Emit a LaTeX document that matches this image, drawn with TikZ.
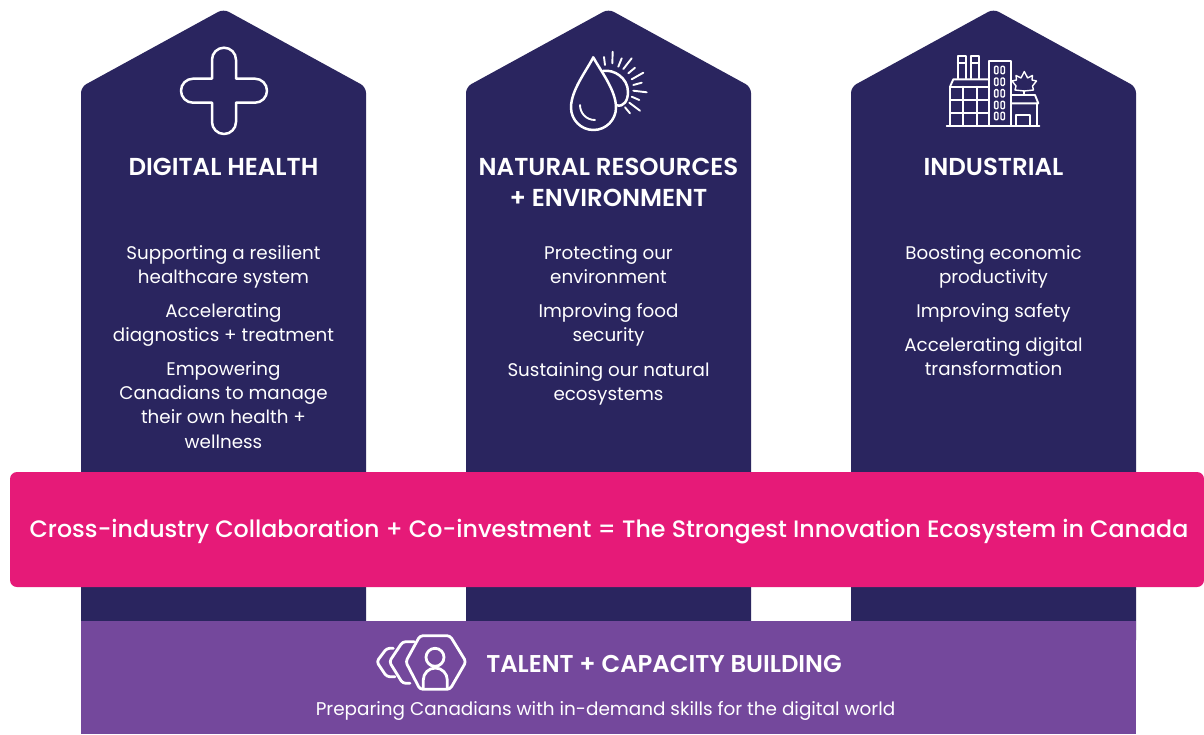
\documentclass[tikz,border=0pt]{standalone}
\usepackage{fontspec}
\setmainfont{Poppins}
\newfontfamily\medfont{Poppins Medium}
\newfontfamily\semifont{Poppins SemiBold}
\definecolor{navy}{HTML}{2A255F}
\definecolor{hotpink}{HTML}{E61A78}
\definecolor{violet}{HTML}{74489C}
\newcommand{\fs}[2]{\fontsize{#1}{#2}\selectfont}
\tikzset{
  icon/.style={draw=white,line width=2.5pt,line join=round,line cap=round},
  iconthin/.style={draw=white,line width=1.9pt,line join=round,line cap=round},
  head/.style={text=white,align=center,font=\fs{24.5}{30.5}\semifont,inner sep=0pt,execute at begin node=\strut,execute at end node=\strut},
  body/.style={text=white,align=center,font=\fs{18.3}{24.3},inner sep=0pt,execute at begin node=\strut,execute at end node=\strut},
}
\begin{document}
\begin{tikzpicture}[x=1pt,y=-1pt]
\useasboundingbox (0,0) rectangle (1204,734);
\fill[white] (0,0) rectangle (1204,734);
% pillars
\foreach \c in {223.5,608.5,993.5}{
  \fill[navy] (\c-142.5,640) [rounded corners=6pt] -- (\c-142.5,87) -- (\c,9) -- (\c+142.5,87) [sharp corners] -- (\c+142.5,640) -- cycle;
}
% talent band
\fill[violet] (81,621) rectangle (1136,734);
% pink band
\fill[hotpink,rounded corners=7pt] (10,472) rectangle (1204,587);
% plus
\draw[icon] (212,59.7) arc (180:360:12) -- (236,78.7) -- (255,78.7) arc (-90:90:12) -- (236,102.7) -- (236,122) arc (0:180:12) -- (212,102.7) -- (193,102.7) arc (90:270:12) -- (212,78.7) -- cycle;
% drop and sun
\draw[icon] (593.3,57.3) .. controls (587,70) and (571,90) .. (571,107.5) arc (180:0:22.5) .. controls (616,90) and (600,70) .. (593.3,57.3);
\draw[iconthin] (580,105) .. controls (580,113) and (586,120) .. (595,120);
\draw[icon] (603,71) .. controls (614,69) and (628,78) .. (628,92) .. controls (628,100) and (624,108) .. (616,105);
\foreach \a/\b/\e/\f in {605/65/604/57,612.3/63.3/612.7/51.7,618.3/66.7/621.7/58.3,623.3/69/631.7/58.3,628.3/73.3/635/67.7,631.7/79.3/643.3/72.7,633.3/85/641.7/82.7,633.3/90.7/646.7/92.3,631.7/96.7/639.3/100,629.3/102.7/640/110.7,625/107.3/630/113.3}{
  \draw[iconthin] (\a,\b) -- (\e,\f);
}
% factory
\begin{scope}[iconthin]
\draw (946.7,126) -- (1039.3,126);
\draw (950,126) -- (950,86.7) -- (953.3,79.3) -- (988.3,79.3);
\draw (950,86.7) -- (989,86.7);
\draw (950,100) -- (989,100) (950,113.3) -- (989,113.3);
\draw (963.3,86.7) -- (963.3,126) (977.3,86.7) -- (977.3,126);
\draw (957.7,78.3) -- (957.7,55.7) -- (966,55.7) -- (966,78.3) (957.7,63.3) -- (966,63.3);
\draw (971,78.3) -- (971,55.7) -- (979,55.7) -- (979,78.3) (971,63.3) -- (979,63.3);
\draw (989,126) -- (989,60.7) -- (1010.7,60.7) -- (1010.7,126);
\foreach \y in {70,81.7,93.3,105,116}{
  \foreach \x in {996.3,1002.7}{
    \draw[line width=1.3pt,rounded corners=1pt] (\x-1.7,\y-3.7) rectangle (\x+1.7,\y+3.7);
  }
}
\draw (1011,95) -- (1035,95) -- (1038.3,103.3) -- (1011,103.3);
\draw (1036.7,103.3) -- (1036.7,126);
\draw (1016,126) -- (1016,115) -- (1030,115) -- (1030,126);
\draw (1024.3,95) -- (1024.3,91);
\draw[line width=1.4pt] (1024.3,91) -- (1015,90) -- (1016,86) -- (1012,81) -- (1016.5,80) -- (1016,75.5) -- (1021,78) -- (1024.3,71.5) -- (1027.6,78) -- (1032.5,75.5) -- (1032,80) -- (1036.5,81) -- (1032.5,86) -- (1033.5,90) -- cycle;
\end{scope}
% talent icon
\begin{scope}[rounded corners=3pt,line width=2.8pt]
\draw[icon,line width=2.8pt] (420,635.7) -- (450,635.7) -- (466,661.7) -- (450,689.3) -- (420,689.3) -- (405.7,661.7) -- cycle;
\draw[icon,line width=2.8pt] (414.3,641.7) -- (402.7,641.7) -- (389.3,661.7) -- (402.7,683.3) -- (410,683.3);
\draw[icon,line width=2.8pt] (393.3,648.3) -- (386.7,648.3) -- (376.7,661.7) -- (386.7,676.7) -- (395,676.7);
\end{scope}
\draw[icon,line width=2.8pt] (435,657.3) circle (9);
\draw[icon,line width=2.8pt] (423.3,688.3) -- (423.3,680) arc (180:360:12) -- (447.3,688.3);
% text
\node[head] (h1) at (223.5,169) {DIGITAL HEALTH};
\node[head] (h2) at (608.5,187) {NATURAL RESOURCES\\+ ENVIRONMENT};
\node[head] (h3) at (993.5,169) {INDUSTRIAL};
\node[body] (a1) at (223.5,268) {Supporting a resilient\\healthcare system};
\node[body] (a2) at (223.5,326) {Accelerating\\diagnostics + treatment};
\node[body] (a3) at (223.5,408.5) {Empowering\\Canadians to manage\\their own health +\\wellness};
\node[body] (b1) at (608.5,268) {Protecting our\\environment};
\node[body] (b2) at (608.5,326) {Improving food\\security};
\node[body] (b3) at (608.5,385) {Sustaining our natural\\ecosystems};
\node[body] (c1) at (993.5,268) {Boosting economic\\productivity};
\node[body] (c2) at (993.5,313) {Improving safety};
\node[body] (c3) at (993.5,360) {Accelerating digital\\transformation};
\node[text=white,font=\fs{23.75}{30}\medfont] (band) at (609,532) {Cross-industry Collaboration + Co-investment = The Strongest Innovation Ecosystem in Canada};
\node[text=white,font=\fs{24.3}{28}\semifont] (t1) at (664,663.5) {TALENT + CAPACITY BUILDING};
\node[text=white,font=\fs{18.4}{24}] (t2) at (605.5,710.5) {Preparing Canadians with in-demand skills for the digital world};
\end{tikzpicture}
\end{document}
